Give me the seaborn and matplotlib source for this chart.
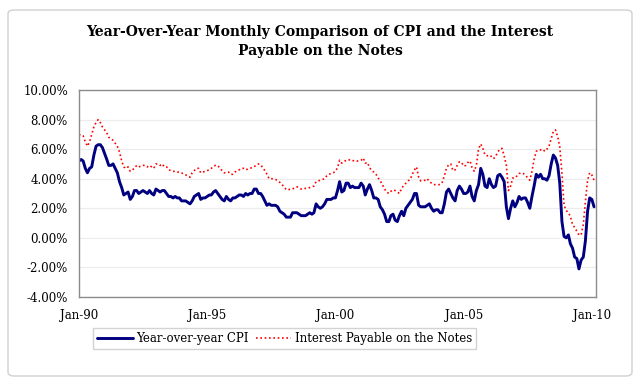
import pandas as pd
import numpy as np
import matplotlib
matplotlib.use("Agg")
import matplotlib.pyplot as plt
import matplotlib.dates as mdates
from matplotlib.patches import FancyBboxPatch
from matplotlib.ticker import FuncFormatter, MultipleLocator
import seaborn as sns

# Monthly data, Jan-1990 .. Feb-2010 (values in %)
start_month = "1990-01-01"

cpi_yoy = [
    5.2, 5.3, 5.2, 4.7, 4.4, 4.7, 4.8, 5.6, 6.2, 6.3, 6.3, 6.1,
    5.7, 5.3, 4.9, 4.9, 5.0, 4.7, 4.4, 3.8, 3.4, 2.9, 3.0, 3.1,
    2.6, 2.8, 3.2, 3.2, 3.0, 3.1, 3.2, 3.1, 3.0, 3.2, 3.0, 2.9,
    3.3, 3.2, 3.1, 3.2, 3.2, 3.0, 2.8, 2.8, 2.7, 2.8, 2.7, 2.7,
    2.5, 2.5, 2.5, 2.4, 2.3, 2.5, 2.8, 2.9, 3.0, 2.6, 2.7, 2.7,
    2.8, 2.9, 2.9, 3.1, 3.2, 3.0, 2.8, 2.6, 2.5, 2.8, 2.6, 2.5,
    2.7, 2.7, 2.8, 2.9, 2.9, 2.8, 3.0, 2.9, 3.0, 3.0, 3.3, 3.3,
    3.0, 3.0, 2.8, 2.5, 2.2, 2.3, 2.2, 2.2, 2.2, 2.1, 1.8, 1.7,
    1.6, 1.4, 1.4, 1.4, 1.7, 1.7, 1.7, 1.6, 1.5, 1.5, 1.5, 1.6,
    1.7, 1.6, 1.7, 2.3, 2.1, 2.0, 2.1, 2.3, 2.6, 2.6, 2.6, 2.7,
    2.7, 3.2, 3.8, 3.1, 3.2, 3.7, 3.7, 3.4, 3.5, 3.4, 3.4, 3.4,
    3.7, 3.5, 2.9, 3.3, 3.6, 3.2, 2.7, 2.7, 2.6, 2.1, 1.9, 1.6,
    1.1, 1.1, 1.5, 1.6, 1.2, 1.1, 1.5, 1.8, 1.5, 2.0, 2.2, 2.4,
    2.6, 3.0, 3.0, 2.2, 2.1, 2.1, 2.1, 2.2, 2.3, 2.0, 1.8, 1.9,
    1.9, 1.7, 1.7, 2.3, 3.1, 3.3, 3.0, 2.7, 2.5, 3.2, 3.5, 3.3,
    3.0, 3.0, 3.1, 3.5, 2.8, 2.5, 3.2, 3.6, 4.7, 4.3, 3.5, 3.4,
    4.0, 3.6, 3.4, 3.5, 4.2, 4.3, 4.1, 3.8, 2.1, 1.3, 2.0, 2.5,
    2.1, 2.4, 2.8, 2.6, 2.7, 2.7, 2.4, 2.0, 2.8, 3.5, 4.3, 4.1,
    4.3, 4.0, 4.0, 3.9, 4.2, 5.0, 5.6, 5.4, 4.9, 3.7, 1.1, 0.1,
    0.0, 0.2, -0.4, -0.7, -1.3, -1.4, -2.1, -1.5, -1.3, -0.2, 1.8, 2.7,
    2.6, 2.1,
]

interest_payable = [
    7.0, 6.9, 6.9, 6.5, 6.2, 6.5, 7.0, 7.5, 7.8, 8.0, 7.8, 7.5,
    7.3, 7.1, 6.8, 6.7, 6.6, 6.4, 6.2, 5.8, 5.2, 4.8, 4.7, 4.8,
    4.5, 4.6, 4.7, 4.9, 4.8, 4.85, 4.9, 4.9, 4.8, 4.9, 4.8, 4.7,
    5.0, 5.0, 4.9, 5.0, 4.8, 4.8, 4.6, 4.55, 4.5, 4.5, 4.45, 4.45,
    4.4, 4.3, 4.25, 4.2, 4.1, 4.4, 4.55, 4.7, 4.7, 4.4, 4.45, 4.5,
    4.55, 4.6, 4.7, 4.85, 4.9, 4.9, 4.7, 4.55, 4.4, 4.4, 4.45, 4.3,
    4.3, 4.45, 4.55, 4.6, 4.7, 4.7, 4.6, 4.65, 4.7, 4.75, 4.8, 4.95,
    5.0, 4.95, 4.75, 4.55, 4.3, 4.0, 4.0, 4.0, 3.95, 3.85, 3.75, 3.6,
    3.45, 3.25, 3.25, 3.3, 3.3, 3.4, 3.45, 3.4, 3.3, 3.3, 3.35, 3.35,
    3.4, 3.45, 3.5, 3.8, 3.85, 3.9, 3.95, 4.0, 4.2, 4.3, 4.35, 4.4,
    4.5, 4.75, 5.25, 5.05, 5.15, 5.25, 5.3, 5.25, 5.2, 5.25, 5.2, 5.2,
    5.25, 5.4, 5.05, 5.1, 4.75, 4.55, 4.45, 4.3, 4.05, 3.85, 3.6, 3.3,
    3.1, 3.0, 3.15, 3.25, 3.2, 3.1, 3.0, 3.35, 3.55, 3.7, 3.85, 3.95,
    4.3, 4.6, 4.8, 4.1, 3.85, 3.85, 3.9, 4.0, 3.8, 3.7, 3.6, 3.6,
    3.6, 3.6, 3.75, 4.2, 4.7, 4.95, 5.0, 4.55, 4.6, 4.9, 5.15, 5.1,
    4.85, 4.9, 5.1, 5.2, 4.75, 4.5, 4.9, 6.0, 6.35, 6.05, 5.6, 5.55,
    5.6, 5.5, 5.35, 5.5, 5.8, 6.0, 6.05, 5.55, 4.9, 3.2, 3.5, 4.05,
    4.05, 4.2, 4.35, 4.4, 4.35, 4.25, 4.05, 3.9, 4.5, 5.3, 5.85, 5.95,
    5.95, 6.0, 5.85, 6.0, 6.2, 6.7, 7.2, 7.3, 6.85, 6.15, 4.35, 2.2,
    1.85, 1.7, 1.45, 0.9, 0.7, 0.45, 0.2, 0.2, 0.9, 2.45, 3.9, 4.4,
    4.25, 3.9,
]

title_lines = ["Year-Over-Year Monthly Comparison of CPI and the Interest",
               "Payable on the Notes"]
cpi_label = "Year-over-year CPI"
interest_label = "Interest Payable on the Notes"

df = pd.DataFrame({
    "Date": pd.date_range(start_month, periods=len(cpi_yoy), freq="MS"),
    "CPI": cpi_yoy,
    "Interest": interest_payable,
})

sns.set_style("white")
plt.rcParams["font.family"] = ["DejaVu Serif"]
plt.rcParams["text.color"] = "black"

fig = plt.figure(figsize=(6.4, 3.84), dpi=100)

# light rounded frame around the whole chart
frame = FancyBboxPatch((8 / 640, 8 / 384), 624 / 640, 366 / 384,
                       boxstyle="round,pad=0,rounding_size=0.01",
                       transform=fig.transFigure, facecolor="none",
                       edgecolor="#d0d0d0", linewidth=1.0, zorder=-1)
fig.patches.append(frame)

ax = fig.add_axes([79 / 640, 1 - 297 / 384, 517 / 640, 207 / 384])

sns.lineplot(data=df, x="Date", y="CPI", ax=ax, color="#000080",
             linewidth=2.1, label=cpi_label, legend=False)
sns.lineplot(data=df, x="Date", y="Interest", ax=ax, color="#ff0000",
             linewidth=1.2, linestyle=(0, (1, 1.6)), label=interest_label,
             legend=False)

# axes
ax.set_ylim(-4, 10)
ax.yaxis.set_major_locator(MultipleLocator(2))
ax.yaxis.set_major_formatter(FuncFormatter(lambda v, p: f"{v:.2f}%"))
ax.set_xlim(pd.Timestamp("1990-01-01"), pd.Timestamp("2010-03-01"))
ax.xaxis.set_major_locator(mdates.YearLocator(5))
ax.xaxis.set_major_formatter(mdates.DateFormatter("%b-%y"))
ax.set_xlabel("")
ax.set_ylabel("")
ax.grid(axis="y", color="#ececec", linewidth=0.8)
ax.set_axisbelow(True)
for s in ax.spines.values():
    s.set_color("#8c8c8c")
    s.set_linewidth(1.0)
ax.tick_params(axis="y", length=0, pad=8, labelsize=8.5, labelcolor="black")
ax.tick_params(axis="x", length=3.5, width=0.8, color="#8c8c8c",
               pad=5, labelsize=8.5, labelcolor="black")

# title
fig.text(0.5, 1 - 32 / 384, title_lines[0], ha="center", va="center",
         fontsize=10, fontweight="bold", color="black")
fig.text(0.5, 1 - 51 / 384, title_lines[1], ha="center", va="center",
         fontsize=10, fontweight="bold", color="black")

# legend
h, l = ax.get_legend_handles_labels()
leg = fig.legend(h, l, loc="upper left", bbox_to_anchor=(93 / 640, 1 - 328 / 384),
                 ncol=2, frameon=True, fancybox=False, fontsize=8.5,
                 handlelength=3.0, handletextpad=0.3, columnspacing=0.6,
                 borderpad=0.35, borderaxespad=0)
leg.get_frame().set_edgecolor("#c8c8c8")
leg.get_frame().set_linewidth(1.0)
for t in leg.get_texts():
    t.set_color("black")

plt.savefig("out.png", dpi=100)
plt.close()
